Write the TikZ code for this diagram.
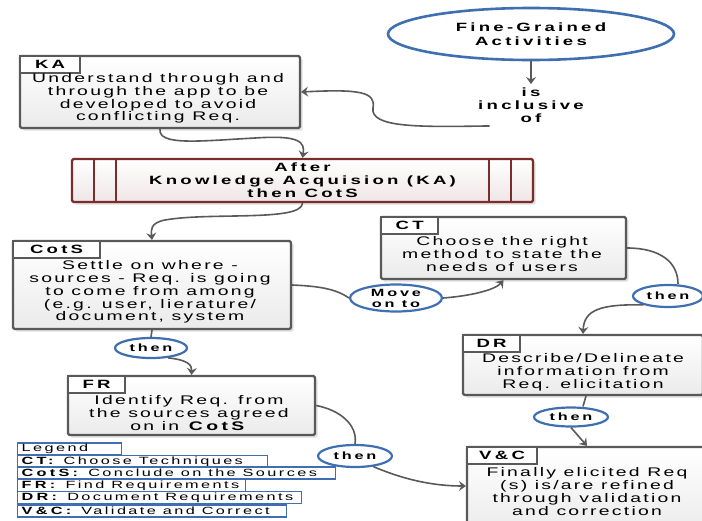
\documentclass[tikz,border=0pt]{standalone}
\usepackage{fontspec}
\setmainfont[FakeStretch=1.55,LetterSpace=18,BoldFeatures={LetterSpace=27}]{Liberation Sans}
\newfontfamily\legendfont[FakeStretch=1.55,LetterSpace=23,BoldFeatures={LetterSpace=31}]{Liberation Sans}
\usetikzlibrary{positioning, arrows.meta, shapes.geometric, shadows}
\definecolor{boxgray}{HTML}{595959}
\definecolor{ovalblue}{HTML}{3F6FB0}
\definecolor{procred}{HTML}{7B2C2C}
\newcommand{\legendline}[2]{\makebox[#1][l]{#2}}

\begin{document}
\begin{tikzpicture}[x=1pt, y=-1pt,
    box_main/.style={draw=boxgray, line width=2.2pt, rounded corners=1.5pt, top color=white, bottom color=black!8, inner sep=0pt,
      general shadow={fill=black!12, shadow xshift=2.5pt, shadow yshift=-2.5pt}},
    box_tag/.style={draw=boxgray, line width=2.4pt, fill=white, anchor=north west, minimum height=17pt, inner sep=0pt, font=\fontsize{12}{12}\selectfont\bfseries},
    box_text/.style={align=center, font=\fontsize{12.5}{12.8}\selectfont},
    oval_lbl/.style={ellipse, draw=ovalblue, line width=2.2pt, fill=white, inner sep=0pt, font=\fontsize{10.5}{11}\selectfont\bfseries, align=center},
    edge_path/.style={draw=boxgray, line width=1.6pt, -{Stealth[length=7pt, width=10pt, inset=2.5pt]}},
    edge_line/.style={draw=boxgray, line width=1.6pt},
    proc_line/.style={draw=procred, line width=2.2pt},
    legend_item/.style={draw=ovalblue, line width=1.4pt, fill=white, anchor=west, minimum height=12pt, inner sep=0pt, inner xsep=4pt, font=\legendfont\fontsize{10.5}{11}\selectfont}
  ]
  \useasboundingbox (0,0) rectangle (702,520);

  % top oval
  \node[ellipse, draw=ovalblue, line width=2.6pt, minimum width=286pt, minimum height=52pt, inner sep=0pt, align=center, font=\fontsize{12}{13.5}\selectfont\bfseries] (fga) at (531,34) {Fine-Grained\\Activities};
  \node[align=center, font=\fontsize{12}{13}\selectfont\bfseries] (inc) at (531,105) {is\\inclusive\\of};

  % boxes
  \node[box_main, minimum width=280pt, minimum height=72pt] (ka) at (160,92) {};
  \node[box_tag, minimum width=60pt] (katag) at (ka.north west) {KA};
  \node[box_text] (katxt) at (158,98.5) {Understand through and\\through the app to be\\developed to avoid\\conflicting Req.};

  \node[box_main, draw=procred, top color=white, bottom color=procred!12, minimum width=461pt, minimum height=43pt, align=center, font=\fontsize{12}{13}\selectfont\bfseries] (after) at (302.5,180.5) {After\\Knowledge Acquision (KA)\\then CotS};
  \foreach \dx in {23,45} {
    \draw[proc_line] ([xshift=\dx pt]after.north west) -- ([xshift=\dx pt]after.south west);
    \draw[proc_line] ([xshift=-\dx pt]after.north east) -- ([xshift=-\dx pt]after.south east);
  }

  \node[box_main, minimum width=278pt, minimum height=88pt] (cots) at (152,285) {};
  \node[box_tag, minimum width=87pt] (cotstag) at (cots.north west) {CotS};
  \node[box_text] (cotstxt) at (150,292) {Settle on where -\\sources - Req. is going\\to come from among\\(e.g. user, lierature/\\document, system};

  \node[box_main, minimum width=245pt, minimum height=62pt] (ct) at (503.5,248) {};
  \node[box_tag, minimum width=57pt] (cttag) at (ct.north west) {CT};
  \node[box_text] (cttxt) at (502,254) {Choose the right\\method to state the\\needs of users};

  \node[box_main, minimum width=240pt, minimum height=60pt] (dr) at (583,365) {};
  \node[box_tag, minimum width=57pt] (drtag) at (dr.north west) {DR};
  \node[box_text] (drtxt) at (583,372) {Describe/Delineate\\information from\\Req. elicitation};

  \node[box_main, minimum width=247pt, minimum height=59pt] (fr) at (191.5,405.5) {};
  \node[box_tag, minimum width=57pt] (frtag) at (fr.north west) {FR};
  \node[box_text] (frtxt) at (189,413) {Identify Req. from\\the sources agreed\\on in \textbf{CotS}};

  \node[box_main, minimum width=240pt, minimum height=88pt] (vc) at (587,491) {};
  \node[box_tag, minimum width=70pt] (vctag) at (vc.north west) {V\&C};
  \node[box_text] (vctxt) at (587,491.5) {Finally elicited Req\\(s) is/are refined\\through validation\\and correction};

  % oval labels
  \node[oval_lbl, minimum width=92pt, minimum height=27pt] (move) at (396,298) {Move\\on to};
  \node[oval_lbl, minimum width=72pt, minimum height=20pt] (then1) at (151,348) {then};
  \node[oval_lbl, minimum width=70pt, minimum height=22pt] (then2) at (668,296) {then};
  \node[oval_lbl, minimum width=74pt, minimum height=19pt] (then3) at (571,417) {then};
  \node[oval_lbl, minimum width=74pt, minimum height=22pt] (then4) at (355,456) {then};

  % connectors
  \draw[edge_path, line width=2.6pt] (fga) -- (inc);
  \draw[edge_path] ([xshift=15pt]inc.south west) .. controls (420,127) and (370,128) .. (373,108) .. controls (376,92) and (360,89) .. (ka.east);
  \draw[edge_path] (ka.south) .. controls (158,146) and (200,141) .. (255,138) .. controls (300,135) and (305,142) .. (after.north);
  \draw[edge_path] (after.south) .. controls (302,222) and (210,212) .. (165,220) .. controls (150,223) and (151,230) .. (cots.north);
  \draw[edge_line] (cots.east) .. controls (315,286) and (335,288) .. (move.west);
  \draw[edge_path] (move.east) .. controls (470,296) and (495,290) .. (ct.south);
  \draw[edge_line] (ct.east) .. controls (660,248) and (678,262) .. ([xshift=10pt]then2.north);
  \draw[edge_path] (then2.200) .. controls (600,304) and (584,310) .. (dr.north);
  \draw[edge_line] ([xshift=3pt]dr.south) -- ([xshift=12pt]then3.north);
  \draw[edge_path] (then3.south) -- (vc.north);
  \draw[edge_line] (cots.south) -- (then1.north);
  \draw[edge_path] (then1.-30) .. controls (188,360) and (192,365) .. (fr.north);
  \draw[edge_line] (fr.east) .. controls (340,410) and (358,425) .. (then4.north);
  \draw[edge_path] (then4.-30) .. controls (400,478) and (430,486) .. ([yshift=5pt]vc.west);

  % legend
  \node[legend_item] (lg) at (17,449) {\legendline{95.6pt}{Legend}};
  \node[legend_item] (lgct) at (17,461.5) {\legendline{241.6pt}{\textbf{CT:} Choose Techniques}};
  \node[legend_item] (lgcots) at (17,473) {\legendline{309.6pt}{\textbf{CotS:} Conclude on the Sources}};
  \node[legend_item] (lgfr) at (17,485.5) {\legendline{219.6pt}{\textbf{FR:} Find Requirements}};
  \node[legend_item] (lgdr) at (17,497.5) {\legendline{275.6pt}{\textbf{DR:} Document Requirements}};
  \node[legend_item] (lgvc) at (17,511) {\legendline{260.6pt}{\textbf{V\&C:} Validate and Correct}};
\end{tikzpicture}
\end{document}
